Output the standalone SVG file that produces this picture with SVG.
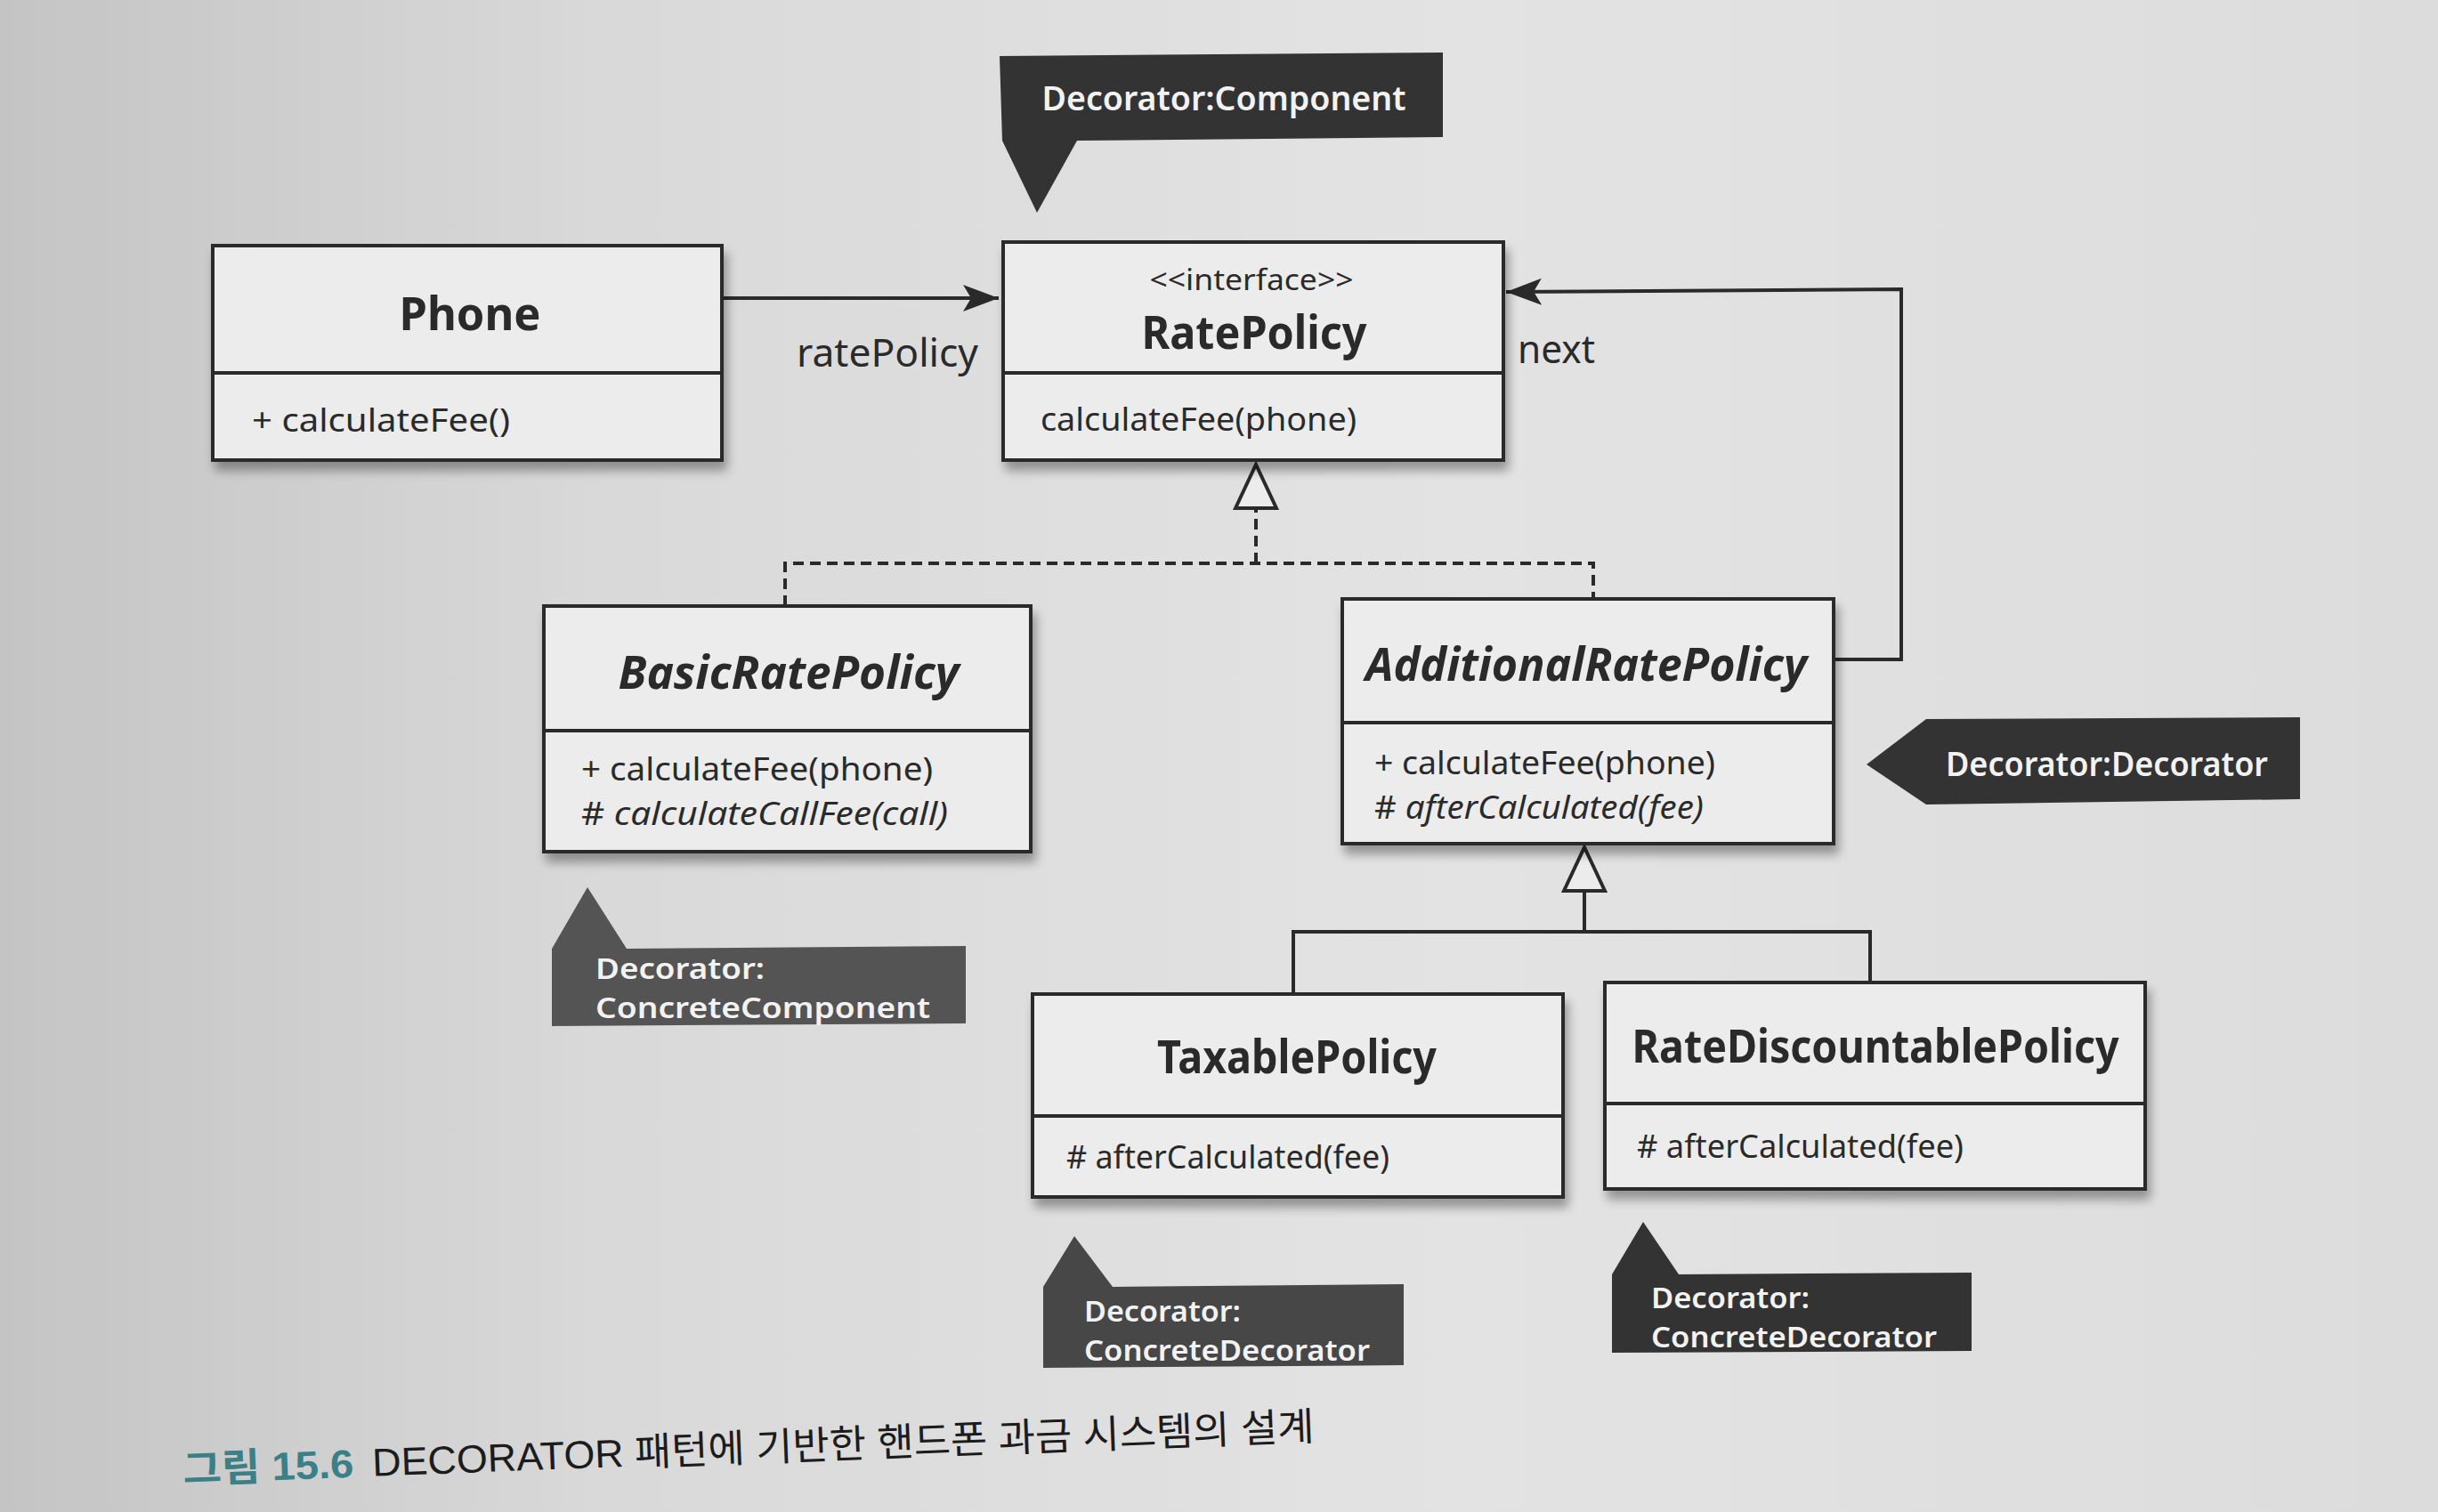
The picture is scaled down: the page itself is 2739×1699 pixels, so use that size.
<svg xmlns="http://www.w3.org/2000/svg" width="2739" height="1699" viewBox="0 0 2739 1699">
<defs>
<linearGradient id="bg" x1="0" y1="0" x2="1" y2="0">
<stop offset="0" stop-color="#c4c4c4"/>
<stop offset="0.25" stop-color="#d9d9d9"/>
<stop offset="0.6" stop-color="#e3e3e3"/>
<stop offset="1" stop-color="#dcdcdc"/>
</linearGradient>
<filter id="sh" x="-5%" y="-5%" width="115%" height="130%">
<feGaussianBlur in="SourceAlpha" stdDeviation="6"/>
<feOffset dx="4" dy="10" result="o"/>
<feComponentTransfer><feFuncA type="linear" slope="0.35"/></feComponentTransfer>
<feMerge><feMergeNode/><feMergeNode in="SourceGraphic"/></feMerge>
</filter>
<marker id="arr" viewBox="0 0 40 30" refX="40" refY="15" markerWidth="40" markerHeight="30" markerUnits="userSpaceOnUse" orient="auto">
<path d="M0,0 L40,15 L0,30 L9,15 z" fill="#2a2a2a"/>
</marker>
<marker id="tri" viewBox="-3 -3 55 52" refX="49" refY="23" markerWidth="55" markerHeight="52" markerUnits="userSpaceOnUse" orient="auto">
<path d="M0,0 L49,23 L0,46 z" fill="#ececec" stroke="#2a2a2a" stroke-width="4" stroke-linejoin="miter"/>
</marker>
<style>
.box{fill:#ececec;stroke:#2a2a2a;stroke-width:4;filter:url(#sh)}
.div{stroke:#2a2a2a;stroke-width:4}
.t{font-family:"Noto Sans","Open Sans",sans-serif;fill:#2a2a2a}
.title{font-size:52px;font-weight:bold;text-anchor:middle}
.m{font-size:36px}
.lbl{font-size:44px}
.line{fill:none;stroke:#2a2a2a;stroke-width:4}
.dash{fill:none;stroke:#2a2a2a;stroke-width:4;stroke-dasharray:12 7}
.note{font-family:"Noto Sans","Open Sans",sans-serif;font-size:37px;font-weight:600;fill:#f2f2f2}
.note2{font-family:"Noto Sans","Open Sans",sans-serif;font-size:32px;font-weight:600;fill:#f2f2f2}
</style>
</defs>
<rect x="0" y="0" width="2739" height="1699" fill="url(#bg)"/>

<g id="connectors">
<path class="line" d="M811,335 L1122,335" marker-end="url(#arr)"/>
<path class="line" d="M2060,741 L2136,741 L2136,325 L1692,328" marker-end="url(#arr)"/>
<path class="dash" d="M882,681 L882,633 L1790,633 L1790,673"/>
<path class="dash" d="M1411,633 L1411,522" marker-end="url(#tri)"/>
<path class="line" d="M1453,1118 L1453,1047 L2101,1047 L2101,1106"/>
<path class="line" d="M1780,1047 L1780,952" marker-end="url(#tri)"/>
<text class="t lbl" x="997" y="412" text-anchor="middle" textLength="204" lengthAdjust="spacingAndGlyphs">ratePolicy</text>
<text class="t lbl" x="1705" y="408" textLength="87" lengthAdjust="spacingAndGlyphs">next</text>
</g>

<g id="Phone">
<rect class="box" x="239" y="276" width="572" height="241"/>
<line class="div" x1="239" y1="419" x2="811" y2="419"/>
<text class="t title" x="528" y="371" textLength="159" lengthAdjust="spacingAndGlyphs">Phone</text>
<text class="t m" x="283" y="485" font-size="40" textLength="290" lengthAdjust="spacingAndGlyphs">+ calculateFee()</text>
</g>

<g id="RatePolicy">
<rect class="box" x="1127" y="272" width="562" height="245"/>
<line class="div" x1="1127" y1="419" x2="1689" y2="419"/>
<text class="t" x="1406" y="326" font-size="32" text-anchor="middle" textLength="229" lengthAdjust="spacingAndGlyphs">&lt;&lt;interface&gt;&gt;</text>
<text class="t title" x="1409" y="392" textLength="253" lengthAdjust="spacingAndGlyphs">RatePolicy</text>
<text class="t m" x="1169" y="484" font-size="40" textLength="355" lengthAdjust="spacingAndGlyphs">calculateFee(phone)</text>
</g>

<g id="BasicRatePolicy">
<rect class="box" x="611" y="681" width="547" height="276"/>
<line class="div" x1="611" y1="821" x2="1158" y2="821"/>
<text class="t title" x="886" y="774" font-style="italic" textLength="383" lengthAdjust="spacingAndGlyphs">BasicRatePolicy</text>
<text class="t m" x="653" y="877" textLength="395" lengthAdjust="spacingAndGlyphs">+ calculateFee(phone)</text>
<text class="t m" x="653" y="927" textLength="412" lengthAdjust="spacingAndGlyphs"># <tspan font-style="italic">calculateCallFee(call)</tspan></text>
</g>

<g id="AdditionalRatePolicy">
<rect class="box" x="1508" y="673" width="552" height="275"/>
<line class="div" x1="1508" y1="812" x2="2060" y2="812"/>
<text class="t title" x="1782" y="765" font-style="italic" textLength="496" lengthAdjust="spacingAndGlyphs">AdditionalRatePolicy</text>
<text class="t m" x="1544" y="870" textLength="383" lengthAdjust="spacingAndGlyphs">+ calculateFee(phone)</text>
<text class="t m" x="1544" y="920" textLength="370" lengthAdjust="spacingAndGlyphs"># <tspan font-style="italic">afterCalculated(fee)</tspan></text>
</g>

<g id="TaxablePolicy">
<rect class="box" x="1160" y="1117" width="596" height="228"/>
<line class="div" x1="1160" y1="1254" x2="1756" y2="1254"/>
<text class="t title" x="1457" y="1206" textLength="314" lengthAdjust="spacingAndGlyphs">TaxablePolicy</text>
<text class="t m" x="1198" y="1313" font-size="40" textLength="363" lengthAdjust="spacingAndGlyphs"># afterCalculated(fee)</text>
</g>

<g id="RateDiscountablePolicy">
<rect class="box" x="1803" y="1104" width="607" height="232"/>
<line class="div" x1="1803" y1="1240" x2="2410" y2="1240"/>
<text class="t title" x="2107" y="1194" textLength="547" lengthAdjust="spacingAndGlyphs">RateDiscountablePolicy</text>
<text class="t m" x="1839" y="1301" font-size="40" textLength="367" lengthAdjust="spacingAndGlyphs"># afterCalculated(fee)</text>
</g>

<g id="note-component">
<polygon points="1123,63 1621,59 1621,154 1210,158 1165,239 1126,158" fill="#333333"/>
<text class="note" x="1375" y="124" text-anchor="middle" textLength="409" lengthAdjust="spacingAndGlyphs">Decorator:Component</text>
</g>

<g id="note-decorator">
<polygon points="2164,808 2584,806 2584,898 2164,904 2097,859" fill="#333333"/>
<text class="note" x="2367" y="872" text-anchor="middle" textLength="362" lengthAdjust="spacingAndGlyphs">Decorator:Decorator</text>
</g>

<g id="note-concrete-component">
<polygon points="620,1153 620,1066 660,997 704,1066 1085,1063 1085,1150" fill="#545454"/>
<text class="note2" x="669" y="1100" textLength="190" lengthAdjust="spacingAndGlyphs">Decorator:</text>
<text class="note2" x="669" y="1144" textLength="376" lengthAdjust="spacingAndGlyphs">ConcreteComponent</text>
</g>

<g id="note-concrete-decorator-1">
<polygon points="1172,1537 1172,1446 1207,1389 1250,1446 1577,1443 1577,1534" fill="#474747"/>
<text class="note2" x="1218" y="1485" textLength="176" lengthAdjust="spacingAndGlyphs">Decorator:</text>
<text class="note2" x="1218" y="1529" textLength="321" lengthAdjust="spacingAndGlyphs">ConcreteDecorator</text>
</g>

<g id="note-concrete-decorator-2">
<polygon points="1811,1520 1811,1432 1846,1373 1886,1432 2215,1430 2215,1518" fill="#333333"/>
<text class="note2" x="1855" y="1470" textLength="178" lengthAdjust="spacingAndGlyphs">Decorator:</text>
<text class="note2" x="1855" y="1514" textLength="321" lengthAdjust="spacingAndGlyphs">ConcreteDecorator</text>
</g>

<g id="caption" transform="rotate(-2.2 206 1667)">
<text x="206" y="1667" font-family="'Liberation Sans','Noto Sans CJK KR',sans-serif" font-size="44" font-weight="bold" fill="#3b7f87" textLength="192" lengthAdjust="spacingAndGlyphs">그림 15.6</text>
<text x="419" y="1667" font-family="'Liberation Sans','Noto Sans CJK KR',sans-serif" font-size="44" fill="#1c1c1c" textLength="1059" lengthAdjust="spacingAndGlyphs">DECORATOR 패턴에 기반한 핸드폰 과금 시스템의 설계</text>
</g>
</svg>
